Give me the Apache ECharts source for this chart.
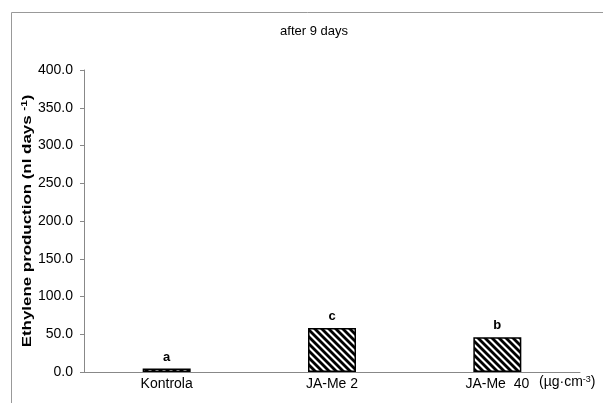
<!DOCTYPE html>
<html>
<head>
<meta charset="utf-8">
<script src="https://cdn.jsdelivr.net/npm/echarts@6/dist/echarts.min.js"></script>
<style>html,body{margin:0;padding:0;background:#fff}#c{width:603px;height:403px}</style>
</head>
<body>
<div id="c"></div>
<script>
var categories = ['Kontrola', 'JA-Me 2', 'JA-Me  40'];
var values = [4.5, 58.3, 46.0];
var letters = ['a', 'c', 'b'];
var yTicks = [0, 50, 100, 150, 200, 250, 300, 350, 400];
var titleText = 'after 9 days';
var yName = 'Ethylene production (nl days {sup|-1})';
var unitText = '(µg·cm{sup|-3})';

function hatch() {
  var p = 7;
  var c = document.createElement('canvas');
  c.width = p; c.height = p;
  var g = c.getContext('2d');
  g.fillStyle = '#fff'; g.fillRect(0, 0, p, p);
  g.strokeStyle = '#000'; g.lineWidth = 2.8;
  for (var k = -1; k <= 1; k++) {
    g.beginPath();
    g.moveTo(k * p - 1, -1);
    g.lineTo(k * p + p + 1, p + 1);
    g.stroke();
  }
  return c;
}

var chart = echarts.init(document.getElementById('c'), null, {renderer: 'canvas'});
var font = 'Liberation Sans, Arial, sans-serif';
chart.setOption({
  animation: false,
  textStyle: {fontFamily: font},
  title: {text: titleText, left: 309, textAlign: 'center', top: 20, textStyle: {fontSize: 13, fontWeight: 'normal', color: '#000', fontFamily: font}},
  grid: {left: 84, right: 23, top: 70, bottom: 31, containLabel: false},
  xAxis: {
    type: 'category', data: categories,
    axisLine: {lineStyle: {color: '#888', width: 1}},
    axisTick: {show: false},
    axisLabel: {color: '#000', fontSize: 14, margin: 5, fontFamily: font}
  },
  yAxis: {
    type: 'value', min: yTicks[0], max: yTicks[yTicks.length - 1], interval: 50,
    axisLine: {show: true, lineStyle: {color: '#888', width: 1}},
    axisTick: {show: true, length: 4, lineStyle: {color: '#888'}},
    splitLine: {show: false},
    axisLabel: {color: '#000', fontSize: 14, margin: 11, fontFamily: font,
      formatter: function (v) { return v.toFixed(1); }}
  },
  series: [{
    type: 'bar', data: values, barWidth: 48,
    itemStyle: {color: {image: hatch(), repeat: 'repeat'}, borderColor: '#000', borderWidth: 1.5},
    label: {show: true, position: 'top', distance: 5, fontSize: 13, fontWeight: 'bold', color: '#000', fontFamily: font,
      formatter: function (p) { return letters[p.dataIndex]; }}
  }],
  graphic: [
    {type: 'rect', shape: {x: 11.5, y: 12.5, width: 620, height: 420}, style: {fill: 'none', stroke: '#999', lineWidth: 1}, silent: true},
    {type: 'text', x: 27, y: 221, rotation: Math.PI / 2, scaleX: 1.3, silent: true,
      style: {text: yName, font: 'bold 13px ' + font, fill: '#000', align: 'center', verticalAlign: 'middle',
        rich: {sup: {fontSize: 9, fontWeight: 'bold', fill: '#000', verticalAlign: 'top', padding: [0, 0, 5, 0]}}}},
    {type: 'text', left: 539, top: 375, style: {text: unitText, font: '14px ' + font, fill: '#000',
      rich: {sup: {fontSize: 9, fill: '#000', verticalAlign: 'top', padding: [0, 0, 5, 0]}}}}
  ]
});
</script>
</body>
</html>
